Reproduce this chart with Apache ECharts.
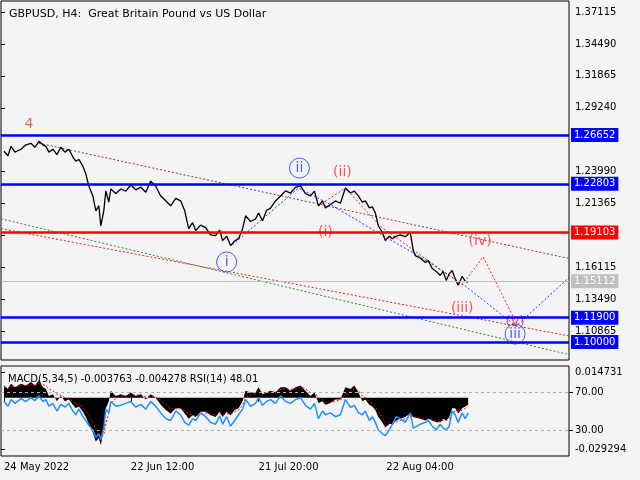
<!DOCTYPE html>
<html><head><meta charset="utf-8">
<script src="https://cdn.jsdelivr.net/npm/echarts@6/dist/echarts.min.js"></script>
<style>html,body{margin:0;background:#f4f4f4}#c{width:640px;height:480px}</style>
</head><body><div id="c"></div>
<script>
const title = "GBPUSD, H4:  Great Britain Pound vs US Dollar";
const subTitle = "MACD(5,34,5) -0.003763 -0.004278 RSI(14) 48.01";
const dateLabels = ["24 May 2022","22 Jun 12:00","21 Jul 20:00","22 Aug 04:00"];
const dateTicks = [3,130,258,386];
const priceTicks = [1.37115,1.34490,1.31865,1.29240,1.23990,1.21365,1.18740,1.16115,1.13490,1.10865];
const barX   = [3,7,10,14,20,25,30,34,38,42,45,48,52,56,60,64,68,72,75,78,82,85,88,92,95,98,100,103,105,108,110,115,120,125,130,135,140,145,150,155,160,165,170,175,180,184,188,192,195,200,205,210,215,219,222,226,230,234,238,242,245,250,255,258,262,266,270,275,280,285,290,295,300,305,310,314,318,322,325,330,335,340,345,350,354,358,362,365,369,372,375,378,382,385,389,392,396,400,405,410,413,415,420,425,428,432,436,440,443,446,449,452,455,458,462,465,468];
const price  = [1.2567,1.2530,1.2608,1.2560,1.2584,1.2620,1.2633,1.2600,1.2649,1.2620,1.2608,1.2560,1.2584,1.2540,1.2600,1.2560,1.2584,1.2520,1.2486,1.2500,1.2445,1.2380,1.2282,1.2200,1.2078,1.2120,1.1955,1.2080,1.2241,1.2150,1.2257,1.2220,1.2257,1.2240,1.2290,1.2250,1.2273,1.2230,1.2322,1.2280,1.2200,1.2160,1.2119,1.2180,1.2159,1.2080,1.1931,1.1980,1.1915,1.1960,1.1940,1.1880,1.1874,1.1920,1.1833,1.1870,1.1792,1.1830,1.1849,1.1930,1.2037,1.1990,1.2012,1.2060,1.1996,1.2080,1.2100,1.2159,1.2200,1.2241,1.2224,1.2270,1.2282,1.2220,1.2200,1.2240,1.2119,1.2160,1.2102,1.2130,1.2159,1.2140,1.2265,1.2224,1.2240,1.2200,1.2150,1.2159,1.2102,1.2110,1.2060,1.1955,1.1900,1.1833,1.1870,1.1849,1.1870,1.1880,1.1865,1.1900,1.1750,1.1710,1.1690,1.1653,1.1670,1.1604,1.1580,1.1547,1.1580,1.1506,1.1560,1.1588,1.1520,1.1466,1.1540,1.1500,1.1490];
const rsi    = [60,55,62,58,63,60,64,61,66,60,62,55,58,50,57,54,58,50,46,52,44,40,35,30,22,26,20,32,52,48,60,55,56,58,60,54,57,52,60,55,48,42,40,50,46,38,35,42,40,48,44,38,36,45,36,44,34,40,46,52,62,55,58,64,56,60,62,58,66,60,58,62,64,56,52,58,42,50,46,48,44,46,62,54,56,48,46,50,40,44,38,30,26,24,30,36,44,42,38,48,32,34,36,38,40,34,30,36,32,30,34,50,46,38,48,42,48];
const macd   = [0.0070,0.0050,0.0080,0.0060,0.0080,0.0070,0.0090,0.0070,0.0100,0.0060,0.0050,0.0010,0.0020,-0.0020,0.0010,-0.0020,-0.0010,-0.0040,-0.0060,-0.0050,-0.0080,-0.0110,-0.0150,-0.0200,-0.0250,-0.0230,-0.0270,-0.0180,-0.0060,-0.0020,0.0040,0.0010,0.0020,0.0010,0.0030,0.0010,0.0020,-0.0010,0.0020,0.0000,-0.0040,-0.0070,-0.0090,-0.0060,-0.0060,-0.0090,-0.0120,-0.0100,-0.0110,-0.0080,-0.0080,-0.0100,-0.0110,-0.0080,-0.0110,-0.0080,-0.0100,-0.0070,-0.0060,-0.0020,0.0040,0.0030,0.0030,0.0060,0.0020,0.0030,0.0040,0.0030,0.0060,0.0060,0.0040,0.0060,0.0070,0.0040,0.0010,0.0030,-0.0030,-0.0020,-0.0040,-0.0030,-0.0010,-0.0010,0.0060,0.0050,0.0070,0.0030,-0.0020,-0.0010,-0.0040,-0.0050,-0.0070,-0.0110,-0.0140,-0.0170,-0.0150,-0.0150,-0.0130,-0.0120,-0.0110,-0.0090,-0.0110,-0.0120,-0.0120,-0.0130,-0.0120,-0.0130,-0.0140,-0.0140,-0.0120,-0.0130,-0.0110,-0.0060,-0.0060,-0.0090,-0.0060,-0.0050,-0.0040];
const signal = [0.0060,0.0058,0.0065,0.0062,0.0068,0.0068,0.0075,0.0072,0.0082,0.0075,0.0068,0.0050,0.0040,0.0020,0.0015,0.0000,-0.0005,-0.0020,-0.0035,-0.0040,-0.0055,-0.0075,-0.0100,-0.0140,-0.0185,-0.0205,-0.0230,-0.0210,-0.0150,-0.0090,-0.0030,-0.0005,0.0010,0.0010,0.0020,0.0015,0.0018,0.0005,0.0012,0.0005,-0.0015,-0.0040,-0.0065,-0.0063,-0.0062,-0.0075,-0.0095,-0.0098,-0.0104,-0.0092,-0.0086,-0.0093,-0.0102,-0.0090,-0.0100,-0.0090,-0.0095,-0.0082,-0.0070,-0.0045,0.0000,0.0015,0.0022,0.0040,0.0030,0.0030,0.0035,0.0032,0.0046,0.0053,0.0046,0.0053,0.0062,0.0051,0.0030,0.0030,0.0000,-0.0010,-0.0025,-0.0028,-0.0019,-0.0014,0.0023,0.0036,0.0053,0.0041,0.0010,0.0000,-0.0020,-0.0035,-0.0053,-0.0081,-0.0110,-0.0140,-0.0145,-0.0148,-0.0139,-0.0130,-0.0120,-0.0105,-0.0108,-0.0114,-0.0117,-0.0124,-0.0122,-0.0126,-0.0133,-0.0137,-0.0128,-0.0129,-0.0120,-0.0090,-0.0075,-0.0082,-0.0071,-0.0060,-0.0050];
const levelsBlue = [1.26652,1.22803,1.11900,1.10000];
const levelRed = 1.19103;
const levelLast = 1.15112;
const trendBrown = [[38,1.2633],[569,1.1686]];
const trendRed = [[0,1.1931],[569,1.1050]];
const trendGreen = [[0,1.2012],[569,1.0896]];
const waveBlue = [[232,1.1800],[298,1.2265],[330,1.2130],[375,1.1910],[420,1.1700],[462,1.1480],[516,1.1130],[569,1.1530]];
const waveRed = [[318,1.2119],[345,1.2265],[380,1.1950],[462,1.1470],[483,1.1700],[516,1.1160]];
const labelsBlue = [[226,1.1657,"i"],[299,1.2429,"ii"],[515,1.1065,"iii"]];
const labelsRed = [[325,1.1903,"(i)"],[342,1.2396,"(ii)"],[462,1.1278,"(iii)"],[480,1.1829,"(iv)"],[515,1.1163,"(v)"]];
const labelsWave = [[28,1.2791,"4"]];

const zip = (xs, ys) => xs.map((x,i)=>[x, ys[i]]);
const font = "DejaVu Sans";
const axisLbl = {color:"#000", fontFamily:font, fontSize:10};
function levelLine(v, color, w, boxColor, txtColor){
  return {yAxis:v, lineStyle:{color, width:w, type:"solid"},
    label:{show:true, position:"end", formatter:v.toFixed(5), distance:2, color:txtColor, backgroundColor:boxColor, padding:[2,3], fontFamily:font, fontSize:10}};
}
const chart = echarts.init(document.getElementById("c"));
chart.setOption({
  backgroundColor:"#f4f4f4", animation:false,
  title:[{text:title, left:4, top:4, textStyle:{fontFamily:font, fontSize:11, fontWeight:"normal", color:"#000"}},
         {text:subTitle, left:3, top:369, textStyle:{fontFamily:font, fontSize:10, fontWeight:"normal", color:"#000"}}],
  grid:[{left:1, right:71, top:1, height:359, show:true, borderColor:"#000", borderWidth:1, backgroundColor:"transparent"},
        {left:1, right:71, top:366, height:90, show:true, borderColor:"#000", borderWidth:1}],
  xAxis:[{type:"value", gridIndex:0, min:0, max:569, show:false},
         {type:"value", gridIndex:1, min:0, max:569, axisLine:{show:false}, splitLine:{show:false},
          axisTick:{show:true, customValues:dateTicks, length:4, lineStyle:{color:"#000"}},
          axisLabel:Object.assign({}, axisLbl, {customValues:dateTicks, formatter:v=>dateLabels[dateTicks.indexOf(v)], align:"left", margin:6})}],
  yAxis:[{type:"value", gridIndex:0, position:"right", min:1.0852, max:1.3802, axisLine:{show:false}, splitLine:{show:false},
          axisTick:{show:true, customValues:priceTicks, length:4, inside:false, lineStyle:{color:"#000"}},
          axisLabel:Object.assign({}, axisLbl, {customValues:priceTicks, formatter:v=>v.toFixed(5), margin:6})},
         {type:"value", gridIndex:1, position:"right", min:-0.0333, max:0.01816, axisLine:{show:false}, splitLine:{show:false},
          axisTick:{show:true, customValues:[0.014731,-0.029294], length:4, lineStyle:{color:"#000"}},
          axisLabel:Object.assign({}, axisLbl, {customValues:[0.014731,-0.029294], formatter:v=>v.toFixed(6), margin:6})},
         {type:"value", gridIndex:1, position:"right", min:2.6, max:97.4, axisLine:{show:false},
          splitLine:{show:false},
          axisTick:{show:true, customValues:[70,30], length:4, lineStyle:{color:"#000"}},
          axisLabel:Object.assign({}, axisLbl, {customValues:[70,30], formatter:v=>v.toFixed(2), margin:6})}],
  series:[
    {type:"line", xAxisIndex:0, yAxisIndex:0, data:trendGreen, symbol:"none", lineStyle:{color:"#2e8b2e", width:1, type:[2,2]}},
    {type:"line", xAxisIndex:0, yAxisIndex:0, data:trendRed, symbol:"none", lineStyle:{color:"#e02020", width:1, type:[2,2]}},
    {type:"line", xAxisIndex:0, yAxisIndex:0, data:trendBrown, symbol:"none", lineStyle:{color:"#a03030", width:1, type:[2,2]}},
    {type:"line", xAxisIndex:0, yAxisIndex:0, data:waveBlue, symbol:"none", lineStyle:{color:"#1a3aff", width:1, type:[2,2]}},
    {type:"line", xAxisIndex:0, yAxisIndex:0, data:waveRed, symbol:"none", lineStyle:{color:"#ff2020", width:1, type:[2,2]}},
    {type:"line", xAxisIndex:0, yAxisIndex:0, data:zip(barX, price), symbol:"none", lineStyle:{color:"#000", width:1.3},
     markLine:{symbol:"none", silent:true, data:[
       ...levelsBlue.map(v=>levelLine(v,"#0000ff",2.5,"#0000ff","#fff")),
       levelLine(levelRed,"#ff0000",2.5,"#ff0000","#fff"),
       levelLine(levelLast,"#c0c0c0",1,"#c0c0c0","#fff")]}},
    {type:"scatter", xAxisIndex:0, yAxisIndex:0, data:labelsBlue.map(d=>({value:[d[0],d[1]], name:d[2]})),
     symbol:"circle", symbolSize:20, itemStyle:{color:"transparent", borderColor:"#1a3aff", borderWidth:1},
     label:{show:true, position:"inside", formatter:p=>p.name, color:"#1a3aff", fontFamily:font, fontSize:14}},
    {type:"scatter", xAxisIndex:0, yAxisIndex:0, data:labelsRed.map(d=>({value:[d[0],d[1]], name:d[2]})),
     symbolSize:0, label:{show:true, position:"inside", formatter:p=>p.name,
       color:"#ff2a2a", fontFamily:font, fontSize:14}},
    {type:"scatter", xAxisIndex:0, yAxisIndex:0, data:labelsWave.map(d=>({value:[d[0],d[1]], name:d[2]})),
     symbolSize:0, label:{show:true, position:"inside", formatter:p=>p.name,
       color:"#c0502a", fontFamily:font, fontSize:14}},
    {type:"line", xAxisIndex:1, yAxisIndex:1, data:zip(barX, macd), symbol:"none", lineStyle:{width:0},
     areaStyle:{color:"#000", opacity:1, origin:0}},
    {type:"line", xAxisIndex:1, yAxisIndex:1, data:zip(barX, signal), symbol:"none", lineStyle:{color:"#ff0000", width:1, type:[2,2]}},
    {type:"line", xAxisIndex:1, yAxisIndex:2, data:zip(barX, rsi), symbol:"none", lineStyle:{color:"#1e90ff", width:1.5},
     markLine:{symbol:"none", silent:true, label:{show:false}, lineStyle:{color:"#b0b0b0", type:[3,3], width:1}, data:[{yAxis:70},{yAxis:30}]}}
  ]
});
</script></body></html>
